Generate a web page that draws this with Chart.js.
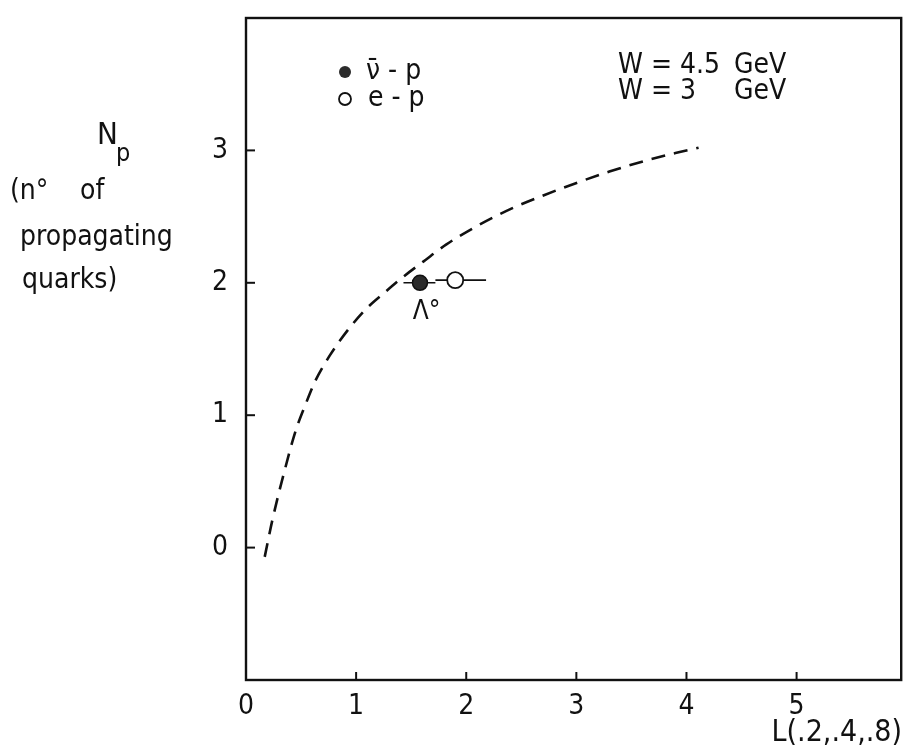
<!DOCTYPE html>
<html>
<head>
<meta charset="utf-8">
<title>Np vs L</title>
<script src="https://cdn.jsdelivr.net/npm/chart.js@4.4.1/dist/chart.umd.min.js"></script>
<style>
    html, body { margin: 0; padding: 0; background: #fff; }
    #wrap { width: 911px; height: 749px; position: relative; }
</style>
</head>
<body>
<div id="wrap"><canvas id="chart" width="911" height="749"></canvas></div>
<script>
/* ============================================
   Data
============================================ */

// dashed curve
const curveX = [0.17, 0.24, 0.35, 0.45, 0.54, 0.63, 0.76, 0.85, 0.96, 1.10, 1.25, 1.42, 1.61, 1.82, 2.10, 2.41, 2.70, 3.02, 3.30, 3.62, 3.90, 4.11];
const curveY = [-0.07, 0.21, 0.58, 0.88, 1.08, 1.26, 1.45, 1.56, 1.68, 1.81, 1.92, 2.04, 2.16, 2.29, 2.43, 2.56, 2.66, 2.76, 2.84, 2.92, 2.98, 3.02];

// Lambda measurements: anti-neutrino p (filled) and e p (open)
const pointNames = ['ν̄ - p', 'e - p'];
const pointX = [1.58, 1.90];
const pointY = [2.00, 2.02];
const errLow = [1.43, 1.72];
const errHigh = [1.72, 2.18];

// energies quoted in the legend
const energyLabels = ['W = 4.5', 'W = 3'];

// axes
const xTicks = [0, 1, 2, 3, 4, 5];
const yTicks = [0, 1, 2, 3];

const FONT = '"Liberation Sans Narrow", "DejaVu Sans Condensed", "DejaVu Sans", sans-serif';
const INK = '#111';

/**
 * Frame, inward ticks, error bars and the free text
 */
const extrasPlugin = {
    id: 'extras',
    beforeDatasetsDraw(chart) {
        const { ctx } = chart;
        const xs = chart.scales.x;
        const ys = chart.scales.y;

        // horizontal error bars
        ctx.save();
        ctx.strokeStyle = INK;
        ctx.lineWidth = 1.6;
        for (let i = 0; i < pointX.length; i++) {
            const py = ys.getPixelForValue(pointY[i]);
            ctx.beginPath();
            ctx.moveTo(xs.getPixelForValue(errLow[i]), py);
            ctx.lineTo(xs.getPixelForValue(errHigh[i]), py);
            ctx.stroke();
        }
        ctx.restore();
    },
    afterDraw(chart) {
        const { ctx, chartArea: a } = chart;
        const xs = chart.scales.x;
        const ys = chart.scales.y;

        ctx.save();
        ctx.strokeStyle = INK;
        ctx.lineWidth = 2.4;
        ctx.strokeRect(a.left, a.top, a.right - a.left, a.bottom - a.top);

        // ticks pointing into the plot
        ctx.lineWidth = 2;
        xTicks.forEach(v => {
            if (v === 0) return;
            const px = xs.getPixelForValue(v);
            ctx.beginPath();
            ctx.moveTo(px, a.bottom);
            ctx.lineTo(px, a.bottom - 8);
            ctx.stroke();
        });
        yTicks.forEach(v => {
            const py = ys.getPixelForValue(v);
            ctx.beginPath();
            ctx.moveTo(a.left, py);
            ctx.lineTo(a.left + 9, py);
            ctx.stroke();
        });

        ctx.fillStyle = INK;
        ctx.textBaseline = 'middle';

        // y axis title
        ctx.textAlign = 'left';
        ctx.font = `31px ${FONT}`;
        ctx.fillText('N', 97, 136);
        ctx.font = `25px ${FONT}`;
        ctx.fillText('p', 116, 154);
        ctx.font = `28px ${FONT}`;
        ctx.fillText('(n°', 10, 192);
        ctx.fillText('of', 80, 192);
        ctx.fillText('propagating', 20, 238);
        ctx.fillText('quarks)', 22, 281);

        // x axis title
        ctx.font = `30px ${FONT}`;
        ctx.textAlign = 'right';
        ctx.fillText('L(.2,.4,.8)', 902, 733);

        // legend
        ctx.textAlign = 'left';
        ctx.font = `28px ${FONT}`;
        ctx.beginPath();
        ctx.arc(345, 72, 6, 0, Math.PI * 2);
        ctx.fillStyle = '#2b2b2b';
        ctx.fill();
        ctx.beginPath();
        ctx.arc(345, 99, 6, 0, Math.PI * 2);
        ctx.fillStyle = '#fff';
        ctx.fill();
        ctx.lineWidth = 1.8;
        ctx.stroke();
        ctx.fillStyle = INK;
        ctx.fillText(pointNames[0], 366, 72);
        ctx.fillText(pointNames[1], 368, 99);

        ctx.fillText(energyLabels[0], 618, 66);
        ctx.fillText('GeV', 734, 66);
        ctx.fillText(energyLabels[1], 618, 92);
        ctx.fillText('GeV', 734, 92);

        // Lambda label below the points
        ctx.font = `26px ${FONT}`;
        ctx.textAlign = 'center';
        ctx.fillText('Λ°', xs.getPixelForValue(1.64), ys.getPixelForValue(1.78));
        ctx.restore();
    }
};

/**
 * Build the chart
 */
const ctxChart = document.getElementById('chart');
const chart = new Chart(ctxChart, {
    type: 'scatter',
    data: {
        datasets: [
            {
                label: 'curve',
                data: curveX.map((x, i) => ({ x, y: curveY[i] })),
                showLine: true,
                borderColor: INK,
                borderWidth: 2.6,
                borderDash: [14, 9],
                pointRadius: 0,
                cubicInterpolationMode: 'monotone',
                fill: false,
            },
            {
                label: pointNames[0],
                data: [{ x: pointX[0], y: pointY[0] }],
                pointRadius: 7.5,
                pointBackgroundColor: '#2b2b2b',
                pointBorderColor: INK,
                pointBorderWidth: 1.5,
            },
            {
                label: pointNames[1],
                data: [{ x: pointX[1], y: pointY[1] }],
                pointRadius: 8,
                pointBackgroundColor: '#fff',
                pointBorderColor: INK,
                pointBorderWidth: 1.8,
            }
        ]
    },
    options: {
        responsive: false,
        animation: false,
        layout: { padding: { top: 18, right: 0, left: 0, bottom: 0 } },
        plugins: {
            legend: { display: false },
            tooltip: { enabled: false }
        },
        scales: {
            x: {
                type: 'linear',
                min: 0,
                max: 5.95,
                afterFit: (scale) => {
                    scale.height = 69;
                    scale.paddingLeft = 0;
                    scale.paddingRight = 0;
                },
                afterBuildTicks: (scale) => { scale.ticks = xTicks.map(v => ({ value: v })); },
                grid: { display: false, drawTicks: false },
                border: { display: false },
                ticks: {
                    color: INK,
                    padding: 10,
                    font: { family: FONT, size: 28 },
                    callback: (v) => String(v)
                }
            },
            y: {
                type: 'linear',
                min: -1,
                max: 4,
                afterFit: (scale) => {
                    scale.width = 246;
                    scale.paddingTop = 0;
                    scale.paddingBottom = 0;
                },
                afterBuildTicks: (scale) => { scale.ticks = yTicks.map(v => ({ value: v })); },
                grid: { display: false, drawTicks: false },
                border: { display: false },
                ticks: {
                    color: INK,
                    padding: 18,
                    font: { family: FONT, size: 28 },
                    callback: (v) => String(v)
                }
            }
        }
    },
    plugins: [extrasPlugin]
});
</script>
</body>
</html>
